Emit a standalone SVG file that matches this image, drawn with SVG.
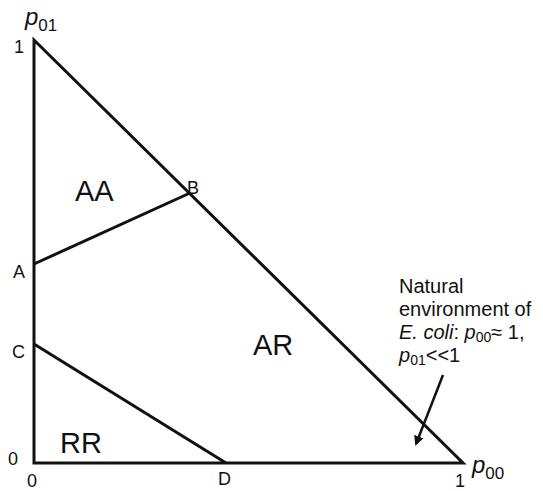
<svg xmlns="http://www.w3.org/2000/svg" width="543" height="491" viewBox="0 0 543 491">
<style>
text{font-family:"Liberation Sans",Arial,sans-serif;fill:#111}
.ln{stroke:#111;stroke-width:3;fill:none}
.lbl{font-size:18px}
.note{font-size:20px}
.reg{font-size:29px}
.ax{font-size:18px}
.p{font-style:italic}
</style>
<defs>
<marker id="ah" markerWidth="10" markerHeight="10" refX="8" refY="5" orient="auto" markerUnits="userSpaceOnUse">
<path d="M0,0 L10,5 L0,10 Z" fill="#111"/>
</marker>
</defs>
<rect width="543" height="491" fill="#fff"/>
<g id="connectors">
<path class="ln" d="M34,40 L34,463 L463,463 Z"/>
<line class="ln" x1="34" y1="264" x2="190" y2="193"/>
<line class="ln" x1="34" y1="344" x2="226" y2="463"/>
<line stroke="#111" stroke-width="2.5" x1="443" y1="375" x2="416" y2="444" marker-end="url(#ah)"/>
</g>
<g id="axes">
<text x="25" y="25" font-size="24"><tspan class="p">p</tspan><tspan font-size="17" dy="6">01</tspan></text>
<text class="ax" x="14" y="53">1</text>
<text class="ax" x="8" y="465">0</text>
<text class="ax" x="27" y="487">0</text>
<text class="ax" x="455" y="487">1</text>
<text x="472" y="473" font-size="24"><tspan class="p">p</tspan><tspan font-size="17" dy="6">00</tspan></text>
</g>
<g id="regions">
<text class="reg" x="75" y="201">AA</text>
<text class="reg" x="253" y="355">AR</text>
<text class="reg" x="60" y="453">RR</text>
</g>
<g id="points">
<text class="lbl" x="13" y="278">A</text>
<text class="lbl" x="187" y="194">B</text>
<text class="lbl" x="12" y="358">C</text>
<text class="lbl" x="218" y="485">D</text>
</g>
<g id="note">
<text class="note" x="399" y="293">Natural</text>
<text class="note" x="399" y="316">environment of</text>
<text class="note" x="399" y="339"><tspan font-style="italic">E. coli</tspan>: <tspan class="p">p</tspan><tspan font-size="14" dy="3">00</tspan><tspan dy="-3">≈ 1,</tspan></text>
<text class="note" x="399" y="362"><tspan class="p">p</tspan><tspan font-size="14" dy="3">01</tspan><tspan dy="-3">&lt;&lt;1</tspan></text>
</g>
</svg>
